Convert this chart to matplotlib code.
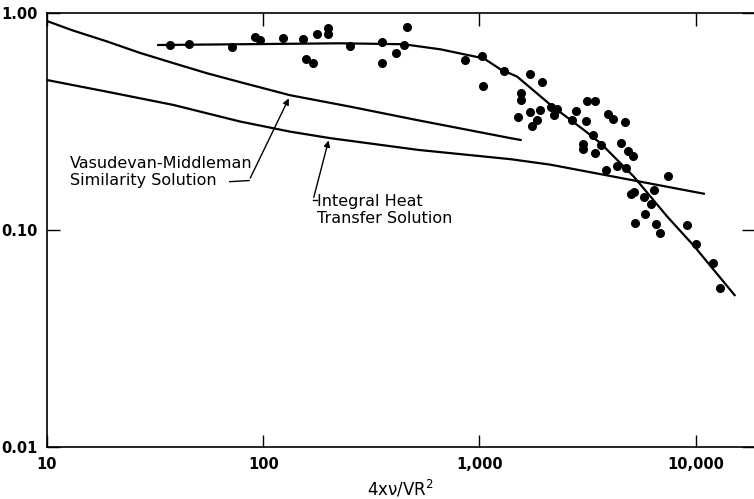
import numpy as np
import matplotlib
matplotlib.use('Agg')
import matplotlib.pyplot as plt

data_x = [37.1, 45.6, 71.6, 91.2, 96.1, 124, 153, 177, 199, 199, 158, 169,
          251, 355, 355, 413, 447, 463, 861, 1029, 1040, 1296, 1710, 1950,
          1550, 1555, 1510, 1717, 1915, 1842, 1754, 2133, 2285, 2202, 2798,
          3140, 3420, 2685, 3118, 3935, 4158, 4690, 3350, 3015, 3015, 3420,
          3633, 4520, 4842, 5140, 3828, 4305, 4753, 7450, 5000, 5180, 6400,
          5740, 6235, 5810, 5225, 6530, 6840, 9160, 10000, 12080, 12950]
data_y = [0.712, 0.717, 0.700, 0.778, 0.751, 0.764, 0.759, 0.800, 0.853, 0.800, 0.612, 0.590,
          0.705, 0.738, 0.590, 0.652, 0.712, 0.865, 0.609, 0.634, 0.461, 0.542, 0.524, 0.482,
          0.428, 0.397, 0.330, 0.351, 0.357, 0.321, 0.301, 0.370, 0.361, 0.339, 0.355,
          0.392, 0.392, 0.320, 0.317, 0.342, 0.324, 0.315, 0.275, 0.249, 0.235, 0.227,
          0.246, 0.251, 0.232, 0.219, 0.189, 0.197, 0.194, 0.177, 0.147, 0.149, 0.153,
          0.142, 0.132, 0.119, 0.108, 0.107, 0.0966, 0.106, 0.0862, 0.0703, 0.0542]

# hand-drawn curve through the data
fit_x = [32.7, 227, 445, 661, 877, 1047, 1250, 1494, 2133, 3041, 3633, 5176, 7400, 9820, 15130]
fit_y = [0.712, 0.725, 0.718, 0.68, 0.641, 0.618, 0.55, 0.509, 0.377, 0.289, 0.251, 0.176, 0.115, 0.0844, 0.0501]

# Vasudevan-Middleman similarity solution
vm_x = [10, 13.2, 18.9, 26.9, 38.3, 54.8, 78.3, 133, 253, 515, 1393, 1550]
vm_y = [0.918, 0.83, 0.74, 0.655, 0.588, 0.528, 0.48, 0.418, 0.37, 0.321, 0.265, 0.26]

# integral heat transfer solution
iht_x = [10, 18.9, 38.4, 78.3, 133, 204, 520, 1393, 2130, 10900]
iht_y = [0.491, 0.434, 0.377, 0.316, 0.284, 0.265, 0.234, 0.212, 0.2, 0.147]

fig = plt.figure(figsize=(7.54, 4.99), dpi=100)
ax = fig.add_axes([47/754, 1 - 447/499, 707/754, 434/499])

ax.plot(vm_x, vm_y, color='black', lw=1.6)
ax.plot(iht_x, iht_y, color='black', lw=1.6)
ax.plot(fit_x, fit_y, color='black', lw=1.6)
ax.plot(data_x, data_y, 'o', color='black', ms=5.5)

ax.set_xscale('log')
ax.set_yscale('log')
ax.set_xlim(10, 18600)
ax.set_ylim(0.01, 1.0)

ax.set_xticks([10, 100, 1000, 10000])
ax.set_xticklabels(['10', '100', '1,000', '10,000'])
ax.set_yticks([0.01, 0.1, 1.0])
ax.set_yticklabels(['0.01', '0.10', '1.00'])
ax.minorticks_off()
ax.tick_params(which='major', direction='in', length=9, width=1,
               top=True, right=True, labelsize=10.5, pad=7)
for lab in ax.get_xticklabels() + ax.get_yticklabels():
    lab.set_fontweight('bold')
for sp in ax.spines.values():
    sp.set_linewidth(1.2)
ax.spines['right'].set_visible(False)

ax.set_xlabel('4x\u03bd/VR$^2$', fontsize=12, labelpad=5)

# labels with leaders
ax.text(12.8, 0.185, 'Vasudevan-Middleman\nSimilarity Solution', fontsize=11.5,
        ha='left', va='center', linespacing=1.2)
ax.plot([70, 86], [0.167, 0.169], color='black', lw=1)
ax.annotate('', xy=(133, 0.415), xytext=(86, 0.169),
            arrowprops=dict(arrowstyle='-|>', color='black', lw=1, mutation_scale=9))

ax.text(178, 0.1236, 'Integral Heat\nTransfer Solution', fontsize=11.5,
        ha='left', va='center', linespacing=1.2)
ax.plot([170, 177], [0.1375, 0.1375], color='black', lw=1)
ax.annotate('', xy=(202, 0.266), xytext=(170, 0.1375),
            arrowprops=dict(arrowstyle='-|>', color='black', lw=1, mutation_scale=9))

plt.savefig('out.png', dpi=100)
